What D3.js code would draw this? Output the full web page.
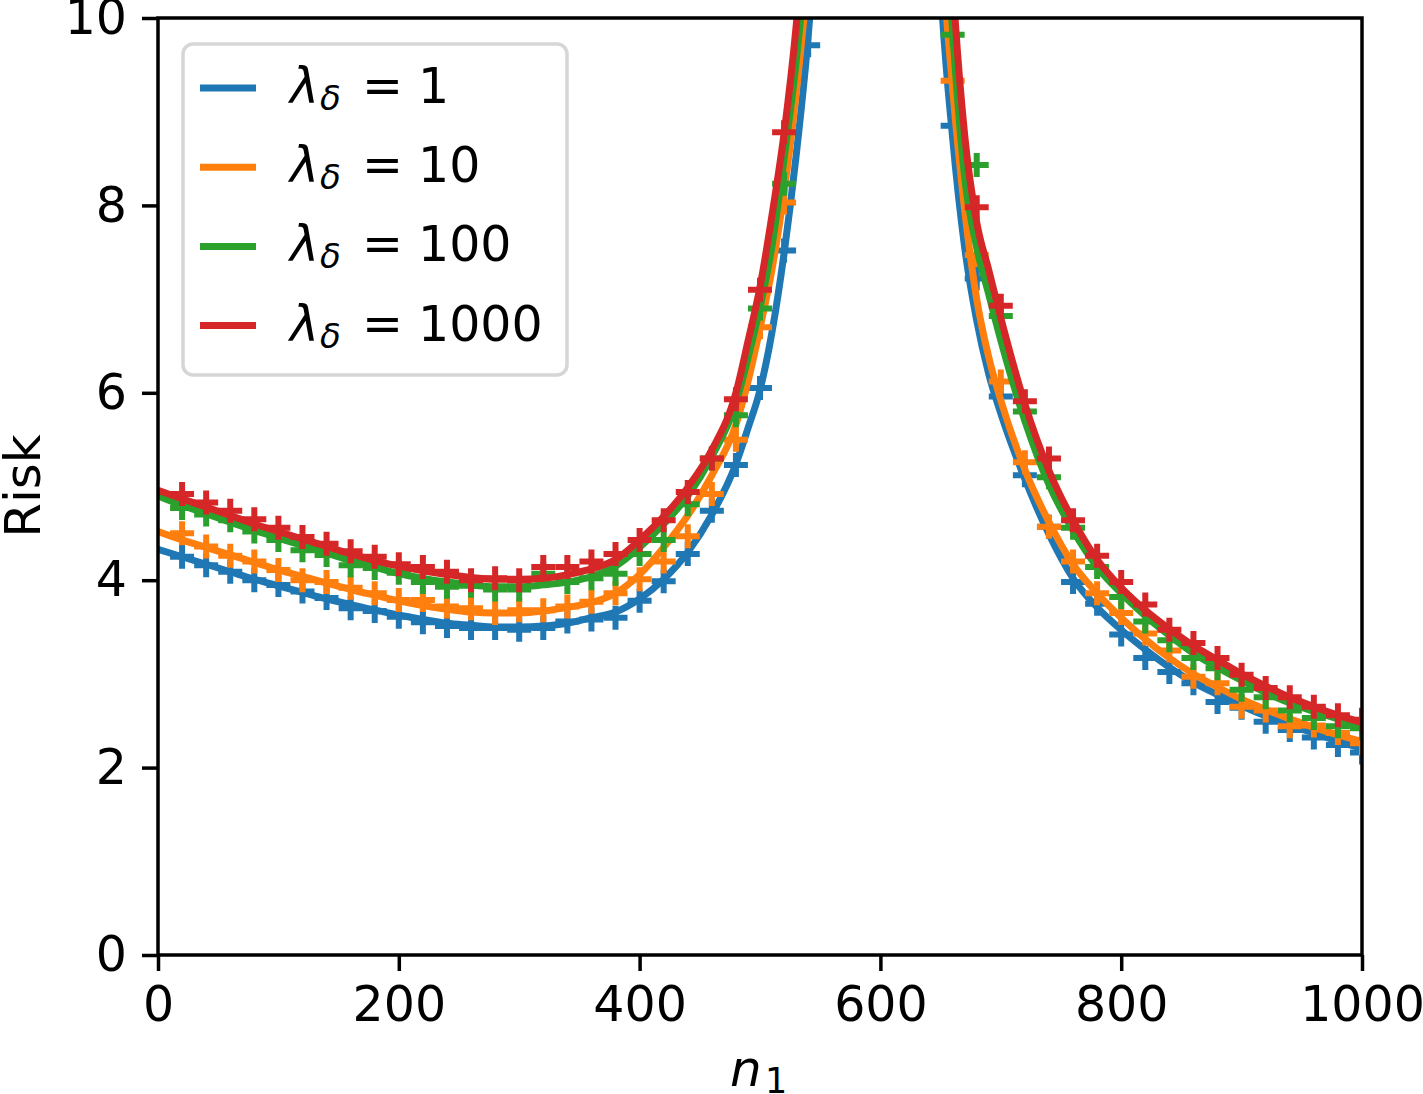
<!DOCTYPE html>
<html lang="en">
<head>
    <meta charset="UTF-8">
    <title>Risk vs n1</title>
    <script src="https://d3js.org/d3.v7.min.js"></script>
    <style>
        body { margin: 0; background: #fff; font-family: "DejaVu Sans", sans-serif; }
        svg { display: block; }
    </style>
</head>
<body>
    <svg width="1423" height="1094"></svg>

    <script>
        // theory curves (solid lines)
        const nLine = [0, 20, 40, 60, 80, 100, 120, 140, 160, 180,
            200, 220, 240, 260, 280, 300, 320, 340, 360, 380,
            400, 420, 440, 460, 480, 490, 500, 510, 520, 530,
            540, 550, 600, 640, 650, 660, 670, 680, 690, 700,
            720, 740, 760, 780, 800, 820, 840, 860, 880, 900,
            920, 940, 960, 980, 1000];
        const lineBlue = [4.33, 4.25, 4.17, 4.09, 4.01, 3.94, 3.87, 3.80, 3.74, 3.68,
            3.63, 3.58, 3.54, 3.52, 3.50, 3.50, 3.51, 3.54, 3.60, 3.66,
            3.80, 4.01, 4.30, 4.70, 5.24, 5.62, 6.03, 6.65, 7.49, 8.53,
            9.80, 11.6, null, 13.5, 10.35, 8.72, 7.55, 6.77, 6.20, 5.78,
            5.08, 4.49, 4.02, 3.71, 3.47, 3.26, 3.07, 2.91, 2.78, 2.66,
            2.55, 2.45, 2.37, 2.28, 2.21];
        const lineOrange = [4.52, 4.43, 4.35, 4.27, 4.19, 4.11, 4.04, 3.97, 3.90, 3.84,
            3.78, 3.73, 3.69, 3.66, 3.65, 3.65, 3.67, 3.71, 3.76, 3.86,
            4.06, 4.35, 4.69, 5.12, 5.66, 6.12, 6.69, 7.32, 8.14, 9.19,
            10.5, 12.3, null, 14.5, 11.0, 9.25, 7.95, 7.00, 6.38, 5.92,
            5.18, 4.62, 4.17, 3.86, 3.60, 3.37, 3.17, 3.00, 2.86, 2.73,
            2.62, 2.52, 2.43, 2.35, 2.28];
        const lineGreen = [4.90, 4.80, 4.71, 4.62, 4.53, 4.45, 4.37, 4.29, 4.21, 4.14,
            4.07, 4.02, 3.98, 3.95, 3.93, 3.93, 3.95, 3.98, 4.04, 4.15,
            4.35, 4.60, 4.90, 5.32, 5.89, 6.37, 6.91, 7.57, 8.50, 9.53,
            10.9, 12.8, null, 15.5, 12.0, 9.85, 8.30, 7.55, 7.05, 6.56,
            5.70, 5.02, 4.53, 4.14, 3.86, 3.62, 3.41, 3.22, 3.07, 2.93,
            2.80, 2.69, 2.60, 2.52, 2.44];
        const lineRed = [4.96, 4.87, 4.78, 4.69, 4.60, 4.52, 4.44, 4.36, 4.28, 4.21,
            4.15, 4.10, 4.06, 4.03, 4.01, 4.01, 4.02, 4.06, 4.12, 4.22,
            4.43, 4.68, 4.99, 5.39, 6.00, 6.55, 7.13, 7.90, 8.77, 9.91,
            11.5, 13.5, null, 16.5, 13.0, 10.4, 8.75, 7.82, 7.31, 6.80,
            5.88, 5.17, 4.64, 4.22, 3.92, 3.68, 3.48, 3.30, 3.15, 3.00,
            2.87, 2.75, 2.65, 2.56, 2.48];

        // simulated points (+ markers)
        const nMark = [20, 40, 60, 80, 100, 120, 140, 160, 180, 200,
            220, 240, 260, 280, 300, 320, 340, 360, 380, 400,
            420, 440, 460, 480, 500, 520, 540, 560, 580, 600,
            620, 640, 660, 680, 700, 720, 740, 760, 780, 800,
            820, 840, 860, 880, 900, 920, 940, 960, 980, 1000];
        const markBlue = [4.25, 4.16, 4.09, 4.00, 3.95, 3.88, 3.81, 3.70, 3.67, 3.61,
            3.55, 3.51, 3.49, 3.49, 3.47, 3.49, 3.56, 3.58, 3.60, 3.78,
            3.99, 4.28, 4.74, 5.23, 6.05, 7.52, 9.71, null, null, null,
            null, null, 8.85, 7.22, 5.96, 5.12, 4.57, 3.98, 3.75, 3.42,
            3.17, 3.02, 2.90, 2.70, 2.64, 2.49, 2.40, 2.32, 2.24, 2.16];
        const markOrange = [4.50, 4.36, 4.26, 4.20, 4.11, 4.00, 3.98, 3.92, 3.86, 3.79,
            3.79, 3.72, 3.70, 3.65, 3.68, 3.68, 3.72, 3.77, 3.86, 4.01,
            4.20, 4.47, 4.92, 5.50, 6.70, 8.03, null, null, null, null,
            null, null, 9.33, 7.47, 6.12, 5.26, 4.57, 4.20, 3.86, 3.65,
            3.43, 3.25, 2.97, 2.90, 2.65, 2.61, 2.44, 2.45, 2.37, 2.26];
        const markGreen = [4.77, 4.70, 4.64, 4.52, 4.43, 4.32, 4.27, 4.16, 4.13, 4.08,
            3.98, 3.93, 3.94, 3.90, 3.90, 4.07, 3.98, 4.02, 4.07, 4.28,
            4.43, 4.81, 5.30, 5.76, 6.90, 8.23, null, null, null, null,
            null, null, 9.82, 8.43, 6.82, 5.80, 5.10, 4.56, 4.14, 3.82,
            3.56, 3.36, 3.17, 3.06, 2.83, 2.75, 2.61, 2.53, 2.44, 2.42];
        const markRed = [4.92, 4.83, 4.74, 4.65, 4.56, 4.46, 4.39, 4.31, 4.25, 4.17,
            4.14, 4.09, 4.00, 4.02, 4.00, 4.14, 4.14, 4.20, 4.28, 4.43,
            4.64, 4.94, 5.30, 5.93, 7.10, 8.78, null, null, null, null,
            null, null, null, 7.98, 6.93, 5.91, 5.30, 4.64, 4.26, 3.98,
            3.74, 3.47, 3.33, 3.17, 2.99, 2.85, 2.75, 2.65, 2.56, 2.51];

        const lambdas = ["1", "10", "100", "1000"];
        const colors = ["#1f77b4", "#ff7f0e", "#2ca02c", "#d62728"];
        const xTicks = [0, 200, 400, 600, 800, 1000];
        const yTicks = [0, 2, 4, 6, 8, 10];

        const series = [
            { line: lineBlue, mark: markBlue },
            { line: lineOrange, mark: markOrange },
            { line: lineGreen, mark: markGreen },
            { line: lineRed, mark: markRed }
        ];

        const margin = { left: 158, top: 18, right: 61, bottom: 139 };
        const width = 1423, height = 1094;
        const iw = width - margin.left - margin.right;
        const ih = height - margin.top - margin.bottom;

        const svg = d3.select("svg");

        const x = d3.scaleLinear().domain([0, 1000]).range([margin.left, margin.left + iw]);
        const y = d3.scaleLinear().domain([0, 10]).range([margin.top + ih, margin.top]);

        svg.append("clipPath").attr("id", "plot-clip")
            .append("rect")
            .attr("x", margin.left).attr("y", margin.top)
            .attr("width", iw).attr("height", ih);

        const plot = svg.append("g").attr("clip-path", "url(#plot-clip)");

        const line = d3.line()
            .defined(d => d[1] != null)
            .x(d => x(d[0]))
            .y(d => y(d[1]))
            .curve(d3.curveMonotoneX);

        const plus = 12;
        series.forEach((s, i) => {
            plot.append("path")
                .datum(nLine.map((n, k) => [n, s.line[k]]))
                .attr("d", line)
                .attr("fill", "none")
                .attr("stroke", colors[i])
                .attr("stroke-width", 7)
                .attr("stroke-linejoin", "round");

            const pts = nMark.map((n, k) => [n, s.mark[k]]).filter(d => d[1] != null);
            plot.append("g").selectAll("path")
                .data(pts)
                .enter().append("path")
                .attr("d", d => {
                    const cx = x(d[0]), cy = y(d[1]);
                    return `M${cx - plus},${cy}H${cx + plus}M${cx},${cy - plus}V${cy + plus}`;
                })
                .attr("stroke", colors[i])
                .attr("stroke-width", 6)
                .attr("fill", "none");
        });

        // axes
        const fs = 49;
        const xAxis = svg.append("g")
            .attr("transform", `translate(0,${margin.top + ih})`)
            .call(d3.axisBottom(x).tickValues(xTicks).tickFormat(d3.format("d"))
                .tickSize(16).tickSizeOuter(0).tickPadding(15));
        const yAxis = svg.append("g")
            .attr("transform", `translate(${margin.left},0)`)
            .call(d3.axisLeft(y).tickValues(yTicks).tickFormat(d3.format("d"))
                .tickSize(16).tickSizeOuter(0).tickPadding(15));

        [xAxis, yAxis].forEach(a => {
            a.select(".domain").remove();
            a.selectAll(".tick line").attr("stroke", "#000").attr("stroke-width", 3.5);
            a.selectAll(".tick text")
                .attr("fill", "#000")
                .style("font-family", "'DejaVu Sans', sans-serif")
                .style("font-size", fs + "px");
        });

        svg.append("rect")
            .attr("x", margin.left).attr("y", margin.top)
            .attr("width", iw).attr("height", ih)
            .attr("fill", "none")
            .attr("stroke", "#000")
            .attr("stroke-width", 3.5);

        // axis labels
        const xl = svg.append("text")
            .attr("y", 1086)
            .style("font-size", "50px");
        xl.append("tspan").attr("x", 730).style("font-style", "italic").text("n");
        xl.append("tspan").attr("x", 765).attr("y", 1093).style("font-size", "35px").text("1");

        svg.append("text")
            .attr("transform", "translate(40,486) rotate(-90)")
            .attr("text-anchor", "middle")
            .style("font-size", "50px")
            .text("Risk");

        // legend
        const legend = svg.append("g");
        legend.append("rect")
            .attr("x", 183).attr("y", 44)
            .attr("width", 384).attr("height", 331)
            .attr("rx", 10)
            .attr("fill", "#fff").attr("fill-opacity", 0.8)
            .attr("stroke", "#d6d6d6").attr("stroke-width", 3.5);

        lambdas.forEach((lam, i) => {
            const ly = 88 + i * 79.2;
            legend.append("line")
                .attr("x1", 200).attr("x2", 256)
                .attr("y1", ly).attr("y2", ly)
                .attr("stroke", colors[i]).attr("stroke-width", 7);
            const t = legend.append("text")
                .attr("y", ly + 15)
                .style("font-size", "49px");
            t.append("tspan").attr("x", 290).style("font-style", "italic").text("λ");
            t.append("tspan").attr("x", 320).attr("y", ly + 22)
                .style("font-style", "italic").style("font-size", "34px").text("δ");
            t.append("tspan").attr("x", 362).attr("y", ly + 15).text("=");
            t.append("tspan").attr("x", 418).text(lam);
        });
    </script>
</body>
</html>
